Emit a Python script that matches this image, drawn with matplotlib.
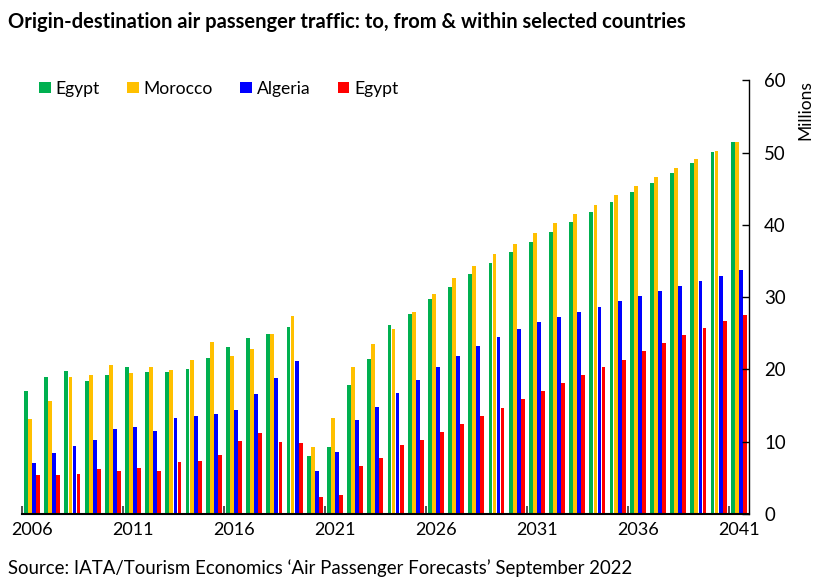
import matplotlib.pyplot as plt
import numpy as np

plt.rcParams['font.family'] = ['Lato', 'DejaVu Sans']

years = list(range(2006, 2042))

# millions of passengers per year, one list per market
egypt = [17.0, 19.0, 19.8, 18.35, 19.2, 20.3, 19.7, 19.7, 20.0, 21.6, 23.1, 24.4,
         24.95, 25.9, 8.0, 9.3, 17.9, 21.45, 26.2, 27.7, 29.7, 31.4, 33.2, 34.7,
         36.2, 37.6, 39.0, 40.4, 41.75, 43.1, 44.5, 45.85, 47.2, 48.6, 50.05, 51.45]
morocco = [13.1, 15.6, 18.9, 19.2, 20.6, 19.5, 20.4, 19.95, 21.3, 23.75, 21.8, 22.8,
           24.9, 27.35, 9.3, 13.3, 20.35, 23.5, 25.55, 28.0, 30.5, 32.6, 34.3, 36.0,
           37.4, 38.85, 40.25, 41.5, 42.8, 44.1, 45.4, 46.6, 47.9, 49.05, 50.25, 51.4]
algeria = [7.0, 8.5, 9.4, 10.3, 11.8, 12.0, 11.45, 13.3, 13.6, 13.9, 14.4, 16.6,
           18.8, 21.2, 6.0, 8.6, 12.95, 14.75, 16.7, 18.5, 20.3, 21.85, 23.25, 24.5,
           25.6, 26.5, 27.25, 28.0, 28.7, 29.4, 30.1, 30.8, 31.5, 32.2, 32.95, 33.7]
egypt2 = [5.35, 5.35, 5.5, 6.2, 6.0, 6.35, 6.0, 7.25, 7.4, 8.2, 10.1, 11.25,
          10.0, 9.9, 2.35, 2.6, 6.7, 7.75, 9.55, 10.3, 11.3, 12.4, 13.55, 14.7,
          15.9, 17.0, 18.1, 19.2, 20.3, 21.35, 22.5, 23.6, 24.7, 25.7, 26.7, 27.6]

series = [("Egypt", egypt, "#00B050"),
          ("Morocco", morocco, "#FFC000"),
          ("Algeria", algeria, "#0000FF"),
          ("Egypt", egypt2, "#FF0000")]

fig = plt.figure(figsize=(8.14, 5.77), dpi=100)
ax = fig.add_axes([0.027, 0.109, 0.893, 0.752])

x = np.arange(len(years))
offsets = [-0.3, -0.1, 0.1, 0.3]
for (name, vals, col), off in zip(series, offsets):
    ax.bar(x + off, vals, width=0.19, color=col, label=name, linewidth=0)

ax.set_xlim(-0.5, len(years) - 0.5)
ax.set_ylim(0, 60)

# value axis on the right
ax.yaxis.tick_right()
ax.set_yticks(range(0, 61, 10))
ax.tick_params(axis='y', direction='in', length=5, width=1, labelsize=13.4, pad=11)
fig.text(0.989, 0.861, "Millions", rotation=90, ha='center', va='top', fontsize=12.5)

# year labels every 5 years, tick marks on the category boundaries
ax.set_xticks(x[::5])
ax.set_xticklabels([str(y) for y in years[::5]])
ax.set_xticks(np.arange(-0.5, len(years), 5), minor=True)
ax.tick_params(axis='x', which='major', length=0, labelsize=13, pad=6)
ax.tick_params(axis='x', which='minor', direction='in', length=6, width=1.2, color='#333333')

for s in ['top', 'left']:
    ax.spines[s].set_visible(False)
ax.spines['bottom'].set_linewidth(1.5)
ax.spines['right'].set_linewidth(1)

ax.legend(loc='upper left', bbox_to_anchor=(0.002, 1.035), ncol=4, frameon=False,
          fontsize=12.6, handlelength=0.65, handleheight=0.65, handletextpad=0.3,
          columnspacing=1.55)

fig.text(0.01, 0.962, "Origin-destination air passenger traffic: to, from & within selected countries",
         fontsize=14.5, fontweight='bold', ha='left', va='center')
fig.text(0.01, 0.015, "Source: IATA/Tourism Economics \u2018Air Passenger Forecasts\u2019 September 2022",
         fontsize=13.4, ha='left', va='center')

fig.savefig("out.png", dpi=100)
